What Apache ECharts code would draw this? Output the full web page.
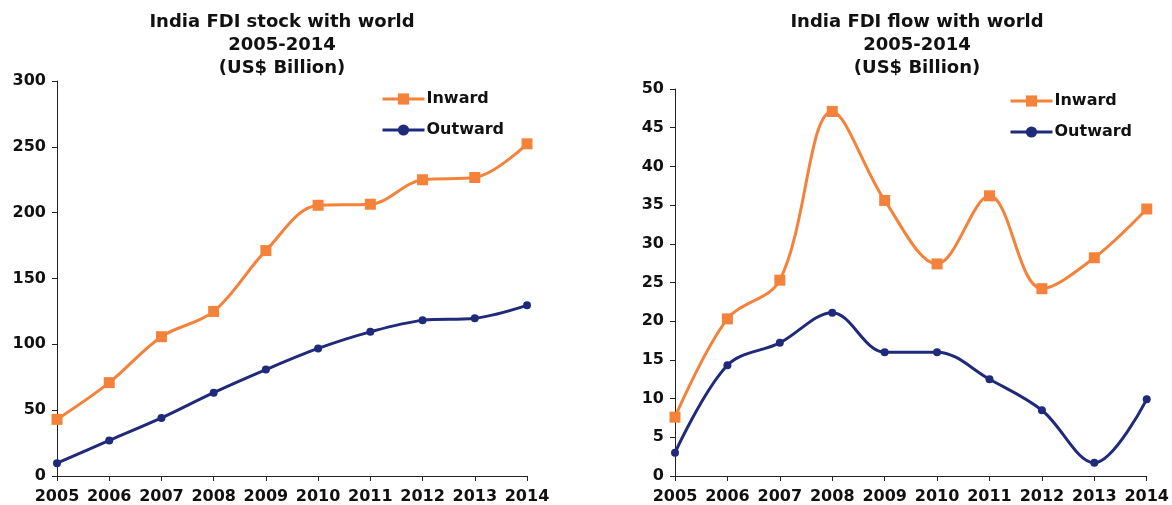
<!DOCTYPE html>
<html>
<head>
<meta charset="utf-8">
<script src="https://cdn.jsdelivr.net/npm/echarts@6/dist/echarts.min.js"></script>
<style>
  html, body { margin: 0; padding: 0; background: #ffffff; }
  #chart { width: 1172px; height: 505px; }
</style>
</head>
<body>
<div id="chart"></div>
<script>
// India FDI, 2005-2014, US$ billion
const years = ['2005', '2006', '2007', '2008', '2009', '2010', '2011', '2012', '2013', '2014'];

// FDI stock
const stockInward  = [43.0, 70.9, 105.8, 125.0, 171.2, 205.6, 206.4, 225.0, 226.7, 252.3];
const stockOutward = [9.7, 27.0, 44.1, 63.3, 80.8, 96.9, 109.5, 118.2, 119.8, 129.6];

// FDI flow
const flowInward  = [7.6, 20.3, 25.3, 47.1, 35.6, 27.4, 36.2, 24.2, 28.2, 34.5];
const flowOutward = [3.0, 14.3, 17.2, 21.1, 16.0, 16.0, 12.5, 8.5, 1.7, 9.9];

const stockTitle = 'India FDI stock with world\n2005-2014\n(US$ Billion)';
const flowTitle  = 'India FDI flow with world\n2005-2014\n(US$ Billion)';

const FONT = '"DejaVu Sans", Verdana, sans-serif';
const ORANGE = '#F5823A';
const NAVY = '#1F2A7B';
const AXIS = '#222222';

function xAxisCfg(gridIndex) {
  return {
    type: 'category', gridIndex, data: years, boundaryGap: false,
    axisLine: { lineStyle: { color: AXIS, width: 1 } },
    axisTick: { show: true, alignWithLabel: true, length: 5, lineStyle: { color: AXIS } },
    axisLabel: { color: '#111', fontFamily: FONT, fontWeight: 'bold', fontSize: 16, margin: 13, interval: 0 },
    splitLine: { show: false }
  };
}
function yAxisCfg(gridIndex, max, interval) {
  return {
    type: 'value', gridIndex, min: 0, max, interval,
    axisLine: { show: true, lineStyle: { color: AXIS, width: 1 } },
    axisTick: { show: true, length: 5, lineStyle: { color: AXIS } },
    axisLabel: { color: '#111', fontFamily: FONT, fontWeight: 'bold', fontSize: 16, margin: 11 },
    splitLine: { show: false }
  };
}
function inwardSeries(idx, data) {
  return {
    name: 'Inward', type: 'line', xAxisIndex: idx, yAxisIndex: idx, data,
    smooth: 0.35, symbol: 'rect', symbolSize: 11,
    lineStyle: { color: ORANGE, width: 3 }, itemStyle: { color: ORANGE },
    z: 3
  };
}
function outwardSeries(idx, data) {
  return {
    name: 'Outward', type: 'line', xAxisIndex: idx, yAxisIndex: idx, data,
    smooth: 0.35, symbol: 'circle', symbolSize: 8,
    lineStyle: { color: NAVY, width: 3 }, itemStyle: { color: NAVY },
    z: 4
  };
}
function legendCfg(left, top) {
  return {
    left, top, orient: 'vertical', itemGap: 15, itemWidth: 42, itemHeight: 14,
    lineStyle: { width: 3 },
    textStyle: { color: '#111', fontFamily: FONT, fontWeight: 'bold', fontSize: 16, padding: [0, 0, 0, -3] },
    data: ['Inward', 'Outward']
  };
}

const chart = echarts.init(document.getElementById('chart'), null, { renderer: 'canvas' });
chart.setOption({
  animation: false,
  backgroundColor: '#ffffff',
  title: [
    { text: stockTitle, left: 277, top: 6, textAlign: 'center',
      textStyle: { fontFamily: FONT, fontWeight: 'bold', fontSize: 18, lineHeight: 23, color: '#111' } },
    { text: flowTitle, left: 912, top: 6, textAlign: 'center',
      textStyle: { fontFamily: FONT, fontWeight: 'bold', fontSize: 18, lineHeight: 23, color: '#111' } }
  ],
  legend: [legendCfg(376, 86), legendCfg(1004, 88)],
  grid: [
    { left: 57, right: 645, top: 81, bottom: 29, containLabel: false },
    { left: 675, right: 24, top: 89, bottom: 29, containLabel: false }
  ],
  xAxis: [xAxisCfg(0), xAxisCfg(1)],
  yAxis: [yAxisCfg(0, 300, 50), yAxisCfg(1, 50, 5)],
  series: [
    inwardSeries(0, stockInward),
    outwardSeries(0, stockOutward),
    inwardSeries(1, flowInward),
    outwardSeries(1, flowOutward)
  ]
});
</script>
</body>
</html>
